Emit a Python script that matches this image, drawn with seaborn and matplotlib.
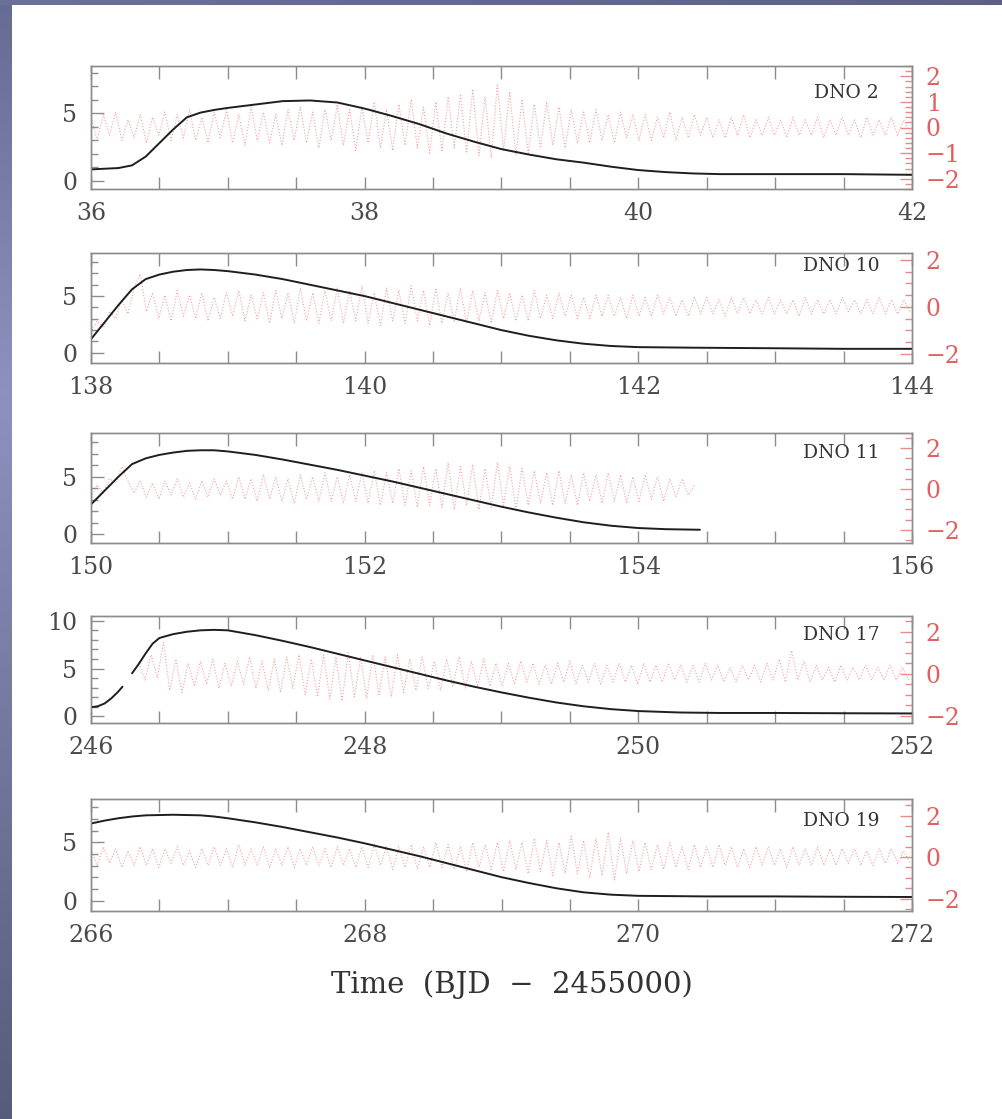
import numpy as np
import matplotlib
matplotlib.use("Agg")
import matplotlib.pyplot as plt
import seaborn as sns
from matplotlib.ticker import MultipleLocator

# ---------------- data ----------------
panel_labels = ["DNO 2", "DNO 10", "DNO 11", "DNO 17", "DNO 19"]
x_ranges = [(36, 42), (138, 144), (150, 156), (246, 252), (266, 272)]

# black light curves (time, value)
b1_t = [36.0, 36.1, 36.2, 36.3, 36.4, 36.5, 36.6, 36.7, 36.8, 36.9, 37.0, 37.2, 37.4, 37.6, 37.8,
        38.0, 38.2, 38.4, 38.6, 38.8, 39.0, 39.2, 39.4, 39.6, 39.8, 40.0, 40.2, 40.4, 40.6, 40.8,
        41.0, 41.5, 42.0]
b1_v = [0.85, 0.9, 0.95, 1.15, 1.8, 2.8, 3.8, 4.7, 5.05, 5.25, 5.4, 5.65, 5.9, 5.95, 5.8,
        5.35, 4.8, 4.2, 3.5, 2.9, 2.35, 1.95, 1.6, 1.35, 1.05, 0.8, 0.65, 0.55, 0.5, 0.5,
        0.5, 0.5, 0.45]

b2_t = [138.0, 138.1, 138.2, 138.3, 138.4, 138.5, 138.6, 138.7, 138.8, 138.9, 139.0, 139.2, 139.4,
        139.6, 139.8, 140.0, 140.2, 140.4, 140.6, 140.8, 141.0, 141.2, 141.4, 141.6, 141.8, 142.0,
        142.4, 143.0, 143.5, 144.0]
b2_v = [1.2, 2.7, 4.2, 5.6, 6.5, 6.9, 7.15, 7.3, 7.35, 7.3, 7.2, 6.9, 6.5,
        6.0, 5.5, 5.0, 4.4, 3.8, 3.2, 2.6, 2.0, 1.5, 1.1, 0.8, 0.6, 0.5,
        0.45, 0.4, 0.35, 0.35]

b3_t = [150.0, 150.1, 150.2, 150.3, 150.4, 150.5, 150.6, 150.7, 150.8, 150.9, 151.0, 151.2, 151.4,
        151.6, 151.8, 152.0, 152.2, 152.4, 152.6, 152.8, 153.0, 153.2, 153.4, 153.6, 153.8, 154.0,
        154.2, 154.45]
b3_v = [2.6, 3.8, 5.0, 6.1, 6.6, 6.9, 7.1, 7.25, 7.3, 7.3, 7.2, 6.9, 6.5,
        6.05, 5.6, 5.1, 4.6, 4.05, 3.5, 2.95, 2.4, 1.9, 1.45, 1.05, 0.75, 0.55,
        0.45, 0.4]

b4a_t = [246.0, 246.05, 246.1, 246.15, 246.2, 246.23]
b4a_v = [0.95, 1.05, 1.35, 1.9, 2.6, 3.1]
b4b_t = [246.3, 246.35, 246.4, 246.45, 246.5, 246.6, 246.7, 246.8, 246.9, 247.0, 247.2, 247.4,
         247.6, 247.8, 248.0, 248.2, 248.4, 248.6, 248.8, 249.0, 249.2, 249.4, 249.6, 249.8,
         250.0, 250.3, 250.6, 251.0, 251.5, 252.0]
b4b_v = [4.5, 5.5, 6.6, 7.6, 8.2, 8.6, 8.85, 9.0, 9.05, 9.0, 8.5, 7.9,
         7.25, 6.55, 5.85, 5.15, 4.45, 3.75, 3.1, 2.5, 1.95, 1.45, 1.05, 0.75,
         0.55, 0.4, 0.35, 0.35, 0.32, 0.3]

b5_t = [266.0, 266.1, 266.2, 266.3, 266.4, 266.6, 266.8, 266.9, 267.0, 267.2, 267.4, 267.6, 267.8,
        268.0, 268.2, 268.4, 268.6, 268.8, 269.0, 269.2, 269.4, 269.6, 269.8, 270.0, 270.5, 271.0,
        271.5, 272.0]
b5_v = [6.6, 6.85, 7.05, 7.2, 7.3, 7.35, 7.3, 7.2, 7.05, 6.7, 6.3, 5.85, 5.4,
        4.9, 4.35, 3.8, 3.2, 2.6, 2.0, 1.5, 1.05, 0.7, 0.5, 0.4, 0.35, 0.35,
        0.32, 0.3]

# red residual signals: successive maxima / minima, one every half cycle
half_cycle = 0.045
r_start = [36.0, 138.0, 150.0, 246.35, 266.0]

r1 = [0.4, -0.5, 0.5, -0.3, 0.6, -0.5, 0.3, -0.4, 0.5, -0.6,
      0.4, -0.3, 0.6, -0.5, 0.5, -0.4, 0.7, -0.5, 0.4, -0.6,
      0.6, -0.4, 0.7, -0.6, 0.5, -0.7, 0.8, -0.5, 0.6, -0.6,
      0.5, -0.7, 0.7, -0.5, 0.8, -0.6, 0.6, -0.8, 0.7, -0.5,
      0.9, -0.7, 0.7, -0.9, 0.8, -0.6, 1.0, -0.8, 0.7, -0.9,
      0.9, -0.7, 1.1, -0.8, 0.8, -1.0, 1.0, -0.9, 1.2, -0.8,
      1.3, -1.0, 1.5, -1.1, 1.2, -1.2, 1.7, -0.9, 1.4, -1.1,
      1.1, -1.0, 0.9, -0.8, 1.0, -0.7, 0.8, -0.8, 0.7, -0.6,
      0.6, -0.6, 0.7, -0.5, 0.5, -0.6, 0.6, -0.4, 0.5, -0.5,
      0.5, -0.5, 0.4, -0.4, 0.6, -0.5, 0.4, -0.4, 0.5, -0.3,
      0.4, -0.4, 0.3, -0.4, 0.4, -0.3, 0.5, -0.4, 0.3, -0.3,
      0.4, -0.3, 0.3, -0.4, 0.4, -0.3, 0.3, -0.3, 0.4, -0.4,
      0.3, -0.3, 0.4, -0.3, 0.3, -0.4, 0.4, -0.3, 0.3, -0.3,
      0.4, -0.3, 0.3, -0.2]

r2 = [-1.1, -0.6, -0.9, -0.2, -0.5, 0.3, -0.3, 0.8, 1.4, -0.2,
      0.6, -0.5, 0.5, -0.6, 0.7, -0.4, 0.5, -0.5, 0.6, -0.6,
      0.4, -0.5, 0.6, -0.4, 0.7, -0.6, 0.5, -0.5, 0.6, -0.7,
      0.7, -0.5, 0.6, -0.7, 0.8, -0.6, 0.6, -0.7, 0.7, -0.6,
      0.8, -0.7, 0.7, -0.6, 0.9, -0.7, 0.6, -0.8, 0.8, -0.6,
      0.7, -0.7, 0.9, -0.6, 0.7, -0.8, 0.8, -0.7, 0.6, -0.6,
      0.8, -0.7, 0.7, -0.6, 0.6, -0.7, 0.7, -0.5, 0.6, -0.6,
      0.5, -0.6, 0.7, -0.5, 0.5, -0.5, 0.6, -0.4, 0.5, -0.5,
      0.4, -0.5, 0.5, -0.4, 0.5, -0.4, 0.4, -0.5, 0.5, -0.4,
      0.4, -0.4, 0.5, -0.3, 0.4, -0.4, 0.3, -0.4, 0.4, -0.3,
      0.4, -0.3, 0.3, -0.4, 0.4, -0.3, 0.4, -0.3, 0.3, -0.3,
      0.4, -0.3, 0.3, -0.3, 0.3, -0.4, 0.4, -0.3, 0.3, -0.3,
      0.3, -0.3, 0.4, -0.2, 0.3, -0.3, 0.3, -0.3, 0.4, -0.3,
      0.3, -0.3, 0.3, -0.2]

r3 = [-0.4, 0.2, -0.2, 0.5, 0.3, 1.1, 0.4, -0.2, 0.4, -0.4,
      0.3, -0.5, 0.4, -0.3, 0.5, -0.4, 0.3, -0.5, 0.4, -0.4,
      0.5, -0.3, 0.4, -0.5, 0.6, -0.5, 0.5, -0.6, 0.7, -0.5,
      0.6, -0.6, 0.5, -0.7, 0.7, -0.5, 0.6, -0.6, 0.8, -0.6,
      0.6, -0.7, 0.7, -0.6, 0.8, -0.7, 0.9, -0.8, 0.8, -0.7,
      1.0, -0.8, 0.9, -0.9, 1.1, -0.8, 1.0, -0.9, 1.3, -1.0,
      1.1, -0.8, 1.2, -1.0, 1.0, -0.9, 1.3, -0.8, 1.1, -1.0,
      1.0, -0.8, 0.9, -0.7, 0.8, -0.8, 0.9, -0.7, 0.7, -0.8,
      0.8, -0.6, 0.7, -0.7, 0.8, -0.6, 0.7, -0.7, 0.6, -0.6,
      0.7, -0.5, 0.6, -0.6, 0.5, -0.4, 0.5, -0.3, 0.2]

r4 = [0.5, -0.3, 0.9, -0.2, 1.5, -0.8, 0.7, -0.9, 0.5, -0.6,
      0.6, -0.5, 0.7, -0.7, 0.5, -0.6, 0.6, -0.5, 0.8, -0.7,
      0.6, -0.8, 0.7, -0.9, 0.8, -0.7, 0.9, -1.0, 0.7, -1.1,
      0.9, -1.2, 0.8, -1.3, 1.0, -1.1, 0.8, -1.2, 0.9, -1.0,
      0.8, -1.1, 0.9, -0.9, 0.7, -0.8, 0.8, -0.7, 0.6, -0.8,
      0.7, -0.6, 0.8, -0.7, 0.6, -0.6, 0.7, -0.6, 0.5, -0.6,
      0.5, -0.5, 0.6, -0.4, 0.5, -0.5, 0.4, -0.5, 0.5, -0.4,
      0.6, -0.5, 0.4, -0.4, 0.5, -0.5, 0.4, -0.4, 0.5, -0.4,
      0.4, -0.5, 0.5, -0.4, 0.4, -0.4, 0.5, -0.3, 0.4, -0.4,
      0.4, -0.4, 0.5, -0.3, 0.4, -0.4, 0.3, -0.4, 0.4, -0.3,
      0.4, -0.4, 0.5, -0.3, 0.7, -0.4, 1.1, -0.3, 0.6, -0.4,
      0.4, -0.3, 0.3, -0.4, 0.4, -0.3, 0.3, -0.3, 0.4, -0.3,
      0.3, -0.3, 0.4, -0.3, 0.3, -0.3]

r5 = [0.4, -0.4, 0.5, -0.3, 0.4, -0.5, 0.3, -0.4, 0.5, -0.4,
      0.4, -0.5, 0.4, -0.3, 0.5, -0.4, 0.3, -0.5, 0.4, -0.4,
      0.5, -0.4, 0.4, -0.5, 0.6, -0.4, 0.4, -0.4, 0.5, -0.5,
      0.4, -0.4, 0.5, -0.5, 0.4, -0.4, 0.5, -0.4, 0.4, -0.5,
      0.5, -0.4, 0.4, -0.5, 0.5, -0.5, 0.6, -0.4, 0.5, -0.6,
      0.5, -0.5, 0.6, -0.6, 0.5, -0.5, 0.7, -0.5, 0.6, -0.6,
      0.5, -0.7, 0.7, -0.5, 0.6, -0.6, 0.7, -0.7, 0.8, -0.6,
      0.7, -0.8, 0.9, -0.7, 0.8, -0.9, 0.7, -0.8, 1.0, -0.8,
      0.8, -1.0, 0.9, -0.9, 1.2, -1.1, 0.9, -0.8, 0.8, -0.7,
      0.7, -0.6, 0.6, -0.6, 0.7, -0.5, 0.5, -0.6, 0.6, -0.5,
      0.5, -0.5, 0.6, -0.4, 0.5, -0.5, 0.4, -0.5, 0.5, -0.4,
      0.5, -0.4, 0.4, -0.5, 0.5, -0.4, 0.4, -0.4, 0.5, -0.4,
      0.4, -0.4, 0.4, -0.3, 0.4, -0.4, 0.3, -0.4, 0.4, -0.3,
      0.4, -0.3, 0.3, -0.3]

x_label = "Time  (BJD  \u2212  2455000)"

# ---------------- style / layout ----------------
sns.set_style("ticks")
plt.rcParams["font.family"] = ["DejaVu Serif", "DejaVu Sans"]

W, H = 1002, 1119
fig = plt.figure(figsize=(W / 100, H / 100), dpi=100)

# slide background: blue-grey band at left and top
bg = fig.add_axes([0, 0, 1, 1], zorder=-10)
img = np.ones((H, W, 3))
yy = np.linspace(0, 1, H)[:, None]
c_top = np.array([0.40, 0.42, 0.58])
c_mid = np.array([0.55, 0.57, 0.75])
c_bot = np.array([0.34, 0.36, 0.48])
left_col = np.where(yy < 0.35,
                    c_top + (yy / 0.35) * (c_mid - c_top),
                    c_mid + ((yy - 0.35) / 0.65) * (c_bot - c_mid))
img[:, :12, :] = left_col[:, None, :] * np.ones((1, 12, 1))
xx = np.linspace(0, 1, W)[:, None]
top_row = np.array([0.42, 0.44, 0.60]) + xx * (np.array([0.36, 0.38, 0.52]) - np.array([0.42, 0.44, 0.60]))
img[:5, :, :] = top_row[None, :, :] * np.ones((5, 1, 1))
bg.imshow(img, extent=[0, 1, 0, 1], aspect="auto", interpolation="nearest")
bg.set_axis_off()

boxes = [(66, 189), (253, 363), (433, 543), (616, 723), (799, 911)]
left_px, right_px = 91, 912
ylims_left = [(-0.6, 8.5), (-0.9, 8.8), (-0.75, 8.8), (-0.7, 10.5), (-0.9, 8.7)]
ylims_right = [(-2.4, 2.4), (-2.4, 2.3), (-2.65, 2.75), (-2.35, 2.75), (-2.6, 2.8)]
label_y = [0.78, 0.88, 0.82, 0.82, 0.80]

black_sets = [[(b1_t, b1_v)], [(b2_t, b2_v)], [(b3_t, b3_v)],
              [(b4a_t, b4a_v), (b4b_t, b4b_v)], [(b5_t, b5_v)]]
red_sets = [r1, r2, r3, r4, r5]

SPINE = "#8c8c8c"
TXT = "#4a4a4a"
RED_TXT = "#e06060"
RED_LINE = "#f07a7a"

for k in range(5):
    top, bot = boxes[k]
    ax = fig.add_axes([left_px / W, 1 - bot / H, (right_px - left_px) / W, (bot - top) / H])
    ax2 = ax.twinx()

    rv = red_sets[k]
    rt = r_start[k] + half_cycle * np.arange(len(rv))
    sns.lineplot(x=rt, y=rv, ax=ax2, color=RED_LINE, linewidth=0.8, linestyle=":",
                 estimator=None, alpha=0.7)
    for bt, bv in black_sets[k]:
        sns.lineplot(x=bt, y=bv, ax=ax, color="#1e1e1e", linewidth=1.4, estimator=None)

    ax.set_zorder(ax2.get_zorder() + 1)
    ax.patch.set_visible(False)

    ax.set_xlim(*x_ranges[k])
    ax.set_ylim(*ylims_left[k])
    ax2.set_ylim(*ylims_right[k])
    ax.set_xlabel("")
    ax.set_ylabel("")
    ax2.set_ylabel("")
    ax2.set_xlabel("")

    ax.xaxis.set_major_locator(MultipleLocator(2))
    ax.xaxis.set_minor_locator(MultipleLocator(0.5))
    ax.yaxis.set_major_locator(MultipleLocator(5))
    ax.yaxis.set_minor_locator(MultipleLocator(1))
    if k == 0:
        ax2.yaxis.set_major_locator(MultipleLocator(1))
        ax2.yaxis.set_minor_locator(MultipleLocator(0.2))
    else:
        ax2.yaxis.set_major_locator(MultipleLocator(2))
        ax2.yaxis.set_minor_locator(MultipleLocator(0.5))

    for a in (ax, ax2):
        for s in a.spines.values():
            s.set_color(SPINE)
            s.set_linewidth(1.0)
            s.set_visible(True)

    ax.tick_params(axis="x", which="both", direction="in", top=True, bottom=True,
                   length=9, width=1.0, color=SPINE, labelcolor=TXT, labelsize=17, pad=9)
    ax.tick_params(axis="y", which="major", direction="in", left=True, right=False,
                   length=9, width=1.0, color=SPINE, labelcolor=TXT, labelsize=17, pad=10)
    ax.tick_params(axis="y", which="minor", direction="in", left=True, right=False,
                   length=5, width=1.0, color=SPINE)
    ax2.tick_params(axis="y", which="major", direction="in", right=True, left=False,
                    length=9, width=1.0, color="#ec8a8a", labelcolor=RED_TXT, labelsize=17, pad=10)
    ax2.tick_params(axis="y", which="minor", direction="in", right=True, left=False,
                    length=5, width=1.0, color="#ec8a8a")

    ax.text(0.96, label_y[k], panel_labels[k], transform=ax.transAxes, ha="right",
            va="center", fontsize=13.5, color="#333333")

fig.text(512 / W, 1 - 985 / H, x_label, ha="center", va="center", fontsize=21, color="#333333")

fig.savefig("out.png", dpi=100)
